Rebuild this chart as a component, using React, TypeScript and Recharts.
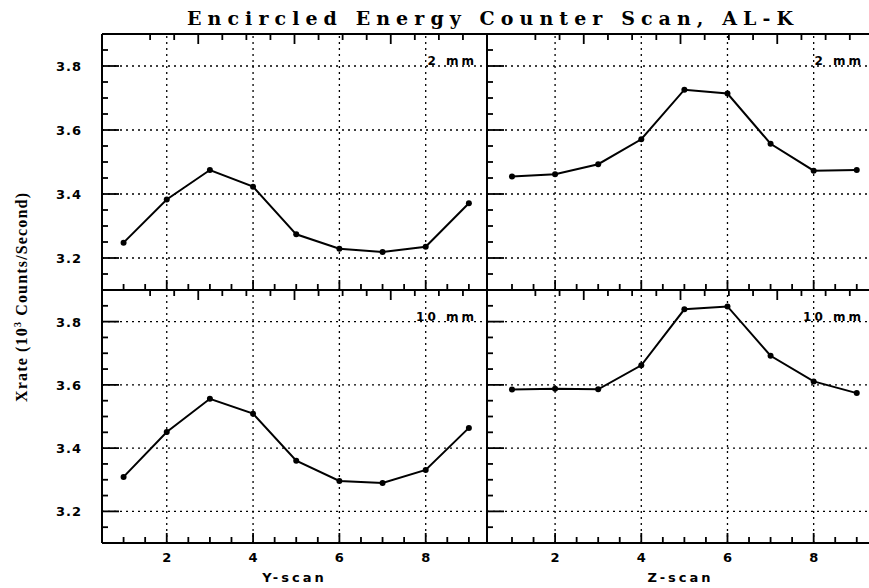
import React from 'react';
import { LineChart, Line, XAxis, YAxis, ReferenceLine } from 'recharts';

// scan positions (x) and count rates (10^3 counts/s)
const SCAN_POS = [1, 2, 3, 4, 5, 6, 7, 8, 9];
const Y_SCAN_2MM = [3.248, 3.383, 3.475, 3.423, 3.274, 3.229, 3.219, 3.235, 3.371];
const Z_SCAN_2MM = [3.455, 3.462, 3.493, 3.571, 3.726, 3.714, 3.557, 3.473, 3.475];
const Y_SCAN_10MM = [3.309, 3.451, 3.556, 3.509, 3.36, 3.296, 3.29, 3.331, 3.464];
const Z_SCAN_10MM = [3.585, 3.588, 3.586, 3.662, 3.839, 3.848, 3.692, 3.611, 3.574];

const X_TICKS = [1, 1.5, 2, 2.5, 3, 3.5, 4, 4.5, 5, 5.5, 6, 6.5, 7, 7.5, 8, 8.5, 9];
const X_LABELS = [2, 4, 6, 8];
const Y_TICKS = [
  3.1, 3.15, 3.2, 3.25, 3.3, 3.35, 3.4, 3.45, 3.5, 3.55, 3.6, 3.65, 3.7, 3.75, 3.8, 3.85, 3.9,
];
const Y_LABELS = [3.2, 3.4, 3.6, 3.8];
const Y_DOMAIN: [number, number] = [3.1, 3.9];

const LABEL_FONT = 'DejaVu Sans';
const AXIS_LINE = { stroke: '#000', strokeWidth: 2 };

function toRows(values: number[]) {
  return SCAN_POS.map((x, i) => ({ x, v: values[i] }));
}

function isMajor(list: number[], v: number) {
  return list.some((m) => Math.abs(m - v) < 1e-6);
}

// inward tick marks (long on labelled values) plus the label
function FrameTick(props: any) {
  const { x, y, payload, side, majors, showLabel } = props;
  const v = payload.value;
  const major = isMajor(majors, v);
  const isX = side === 'top' || side === 'bottom';
  const len = major ? (isX ? 10 : 17) : 6;
  const dx = side === 'left' ? len : side === 'right' ? -len : 0;
  const dy = side === 'top' ? len : side === 'bottom' ? -len : 0;
  return (
    <g>
      <path d={`M${x},${y}l${dx},${dy}`} stroke="#000" strokeWidth={1.8} fill="none" />
      {showLabel && major && side === 'left' && (
        <text x={x - 20} y={y + 5} textAnchor="end" fontFamily={LABEL_FONT} fontWeight="bold" fontSize={13} letterSpacing={1} fill="#000">
          {v.toFixed(1)}
        </text>
      )}
      {showLabel && major && side === 'bottom' && (
        <text x={x} y={y + 19} textAnchor="middle" fontFamily={LABEL_FONT} fontWeight="bold" fontSize={13} fill="#000">
          {v}
        </text>
      )}
    </g>
  );
}

function PanelTag(props: any) {
  const { viewBox, text } = props;
  if (!viewBox) return null;
  return (
    <text
      x={viewBox.x + viewBox.width - 10}
      y={viewBox.y - 1}
      textAnchor="end"
      fontFamily={LABEL_FONT}
      fontWeight="bold"
      fontSize={12}
      letterSpacing={3}
      fill="#000"
    >
      {text}
    </text>
  );
}

interface PanelProps {
  left: number;
  top: number;
  width: number;
  height: number;
  values: number[];
  xDomain: [number, number];
  leftWidth: number;
  bottomHeight: number;
  showYLabels: boolean;
  showXLabels: boolean;
  tag: string;
  scanLabel?: string;
}

function Panel(p: PanelProps) {
  return (
    <div style={{ position: 'absolute', left: p.left, top: p.top }}>
      <LineChart width={p.width} height={p.height} data={toRows(p.values)} margin={{ top: 0, right: 0, bottom: 0, left: 0 }}>
        {X_LABELS.map((v) => (
          <ReferenceLine key={`gx-${v}`} x={v} stroke="#000" strokeWidth={1.3} strokeDasharray="2 4" />
        ))}
        {Y_LABELS.map((v) => (
          <ReferenceLine
            key={`gy-${v}`}
            y={v}
            stroke="#000"
            strokeWidth={1.3}
            strokeDasharray="2 4"
            label={v === 3.8 ? <PanelTag text={p.tag} /> : undefined}
          />
        ))}
        <XAxis
          dataKey="x"
          type="number"
          domain={p.xDomain}
          ticks={X_TICKS}
          interval={0}
          tickSize={0}
          tickMargin={0}
          tickLine={false}
          axisLine={AXIS_LINE}
          height={p.bottomHeight}
          tick={<FrameTick side="bottom" majors={X_LABELS} showLabel={p.showXLabels} />}
          label={
            p.scanLabel
              ? {
                  value: p.scanLabel,
                  position: 'insideBottom',
                  offset: 6,
                  fill: '#000',
                  fontSize: 13,
                  fontWeight: 'bold',
                  fontFamily: LABEL_FONT,
                  letterSpacing: 3,
                }
              : undefined
          }
        />
        <XAxis
          xAxisId="top"
          orientation="top"
          type="number"
          domain={p.xDomain}
          ticks={X_TICKS}
          interval={0}
          tickSize={0}
          tickMargin={0}
          tickLine={false}
          axisLine={AXIS_LINE}
          height={4}
          tick={<FrameTick side="top" majors={X_LABELS} showLabel={false} />}
        />
        <YAxis
          type="number"
          domain={Y_DOMAIN}
          ticks={Y_TICKS}
          interval={0}
          tickSize={0}
          tickMargin={0}
          tickLine={false}
          axisLine={AXIS_LINE}
          width={p.leftWidth}
          tick={<FrameTick side="left" majors={Y_LABELS} showLabel={p.showYLabels} />}
        />
        <YAxis
          yAxisId="right"
          orientation="right"
          type="number"
          domain={Y_DOMAIN}
          ticks={Y_TICKS}
          interval={0}
          tickSize={0}
          tickMargin={0}
          tickLine={false}
          axisLine={AXIS_LINE}
          width={4}
          tick={<FrameTick side="right" majors={Y_LABELS} showLabel={false} />}
        />
        <Line
          dataKey="v"
          stroke="#000"
          strokeWidth={2}
          dot={{ r: 3, fill: '#000', stroke: '#000', strokeWidth: 0 }}
          activeDot={false}
          isAnimationActive={false}
        />
      </LineChart>
    </div>
  );
}

export default function App() {
  return (
    <div
      style={{
        position: 'absolute',
        left: 0,
        top: 0,
        width: 869,
        height: 588,
        overflow: 'hidden',
        background: '#fff',
      }}
    >
      <Panel left={40} top={30} width={451} height={264} values={Y_SCAN_2MM} xDomain={[0.5, 9.42]}
        leftWidth={62} bottomHeight={4} showYLabels showXLabels={false} tag="2 mm" />
      <Panel left={483} top={30} width={395} height={264} values={Z_SCAN_2MM} xDomain={[0.42, 9.4]}
        leftWidth={4} bottomHeight={4} showYLabels={false} showXLabels={false} tag="2 mm" />
      <Panel left={40} top={286} width={451} height={302} values={Y_SCAN_10MM} xDomain={[0.5, 9.42]}
        leftWidth={62} bottomHeight={45} showYLabels showXLabels tag="10 mm" scanLabel="Y-scan" />
      <Panel left={483} top={286} width={395} height={302} values={Z_SCAN_10MM} xDomain={[0.42, 9.4]}
        leftWidth={4} bottomHeight={45} showYLabels={false} showXLabels tag="10 mm" scanLabel="Z-scan" />
      <svg width={869} height={588} style={{ position: 'absolute', left: 0, top: 0, pointerEvents: 'none' }}>
        <text x={490} y={25} textAnchor="middle" fontFamily="DejaVu Serif" fontWeight="bold" fontSize={19} textLength={606} lengthAdjust="spacing" fill="#000">
          Encircled Energy Counter Scan, AL-K
        </text>
        <text
          transform="translate(27,297.5) rotate(-90)"
          textAnchor="middle"
          fontFamily="Liberation Serif"
          fontWeight="bold"
          fontSize={16}
          textLength={209}
          lengthAdjust="spacing"
          fill="#000"
        >
          Xrate (10<tspan dy={-6} fontSize={10}>3</tspan>
          <tspan dy={6}> Counts/Second)</tspan>
        </text>
      </svg>
    </div>
  );
}
